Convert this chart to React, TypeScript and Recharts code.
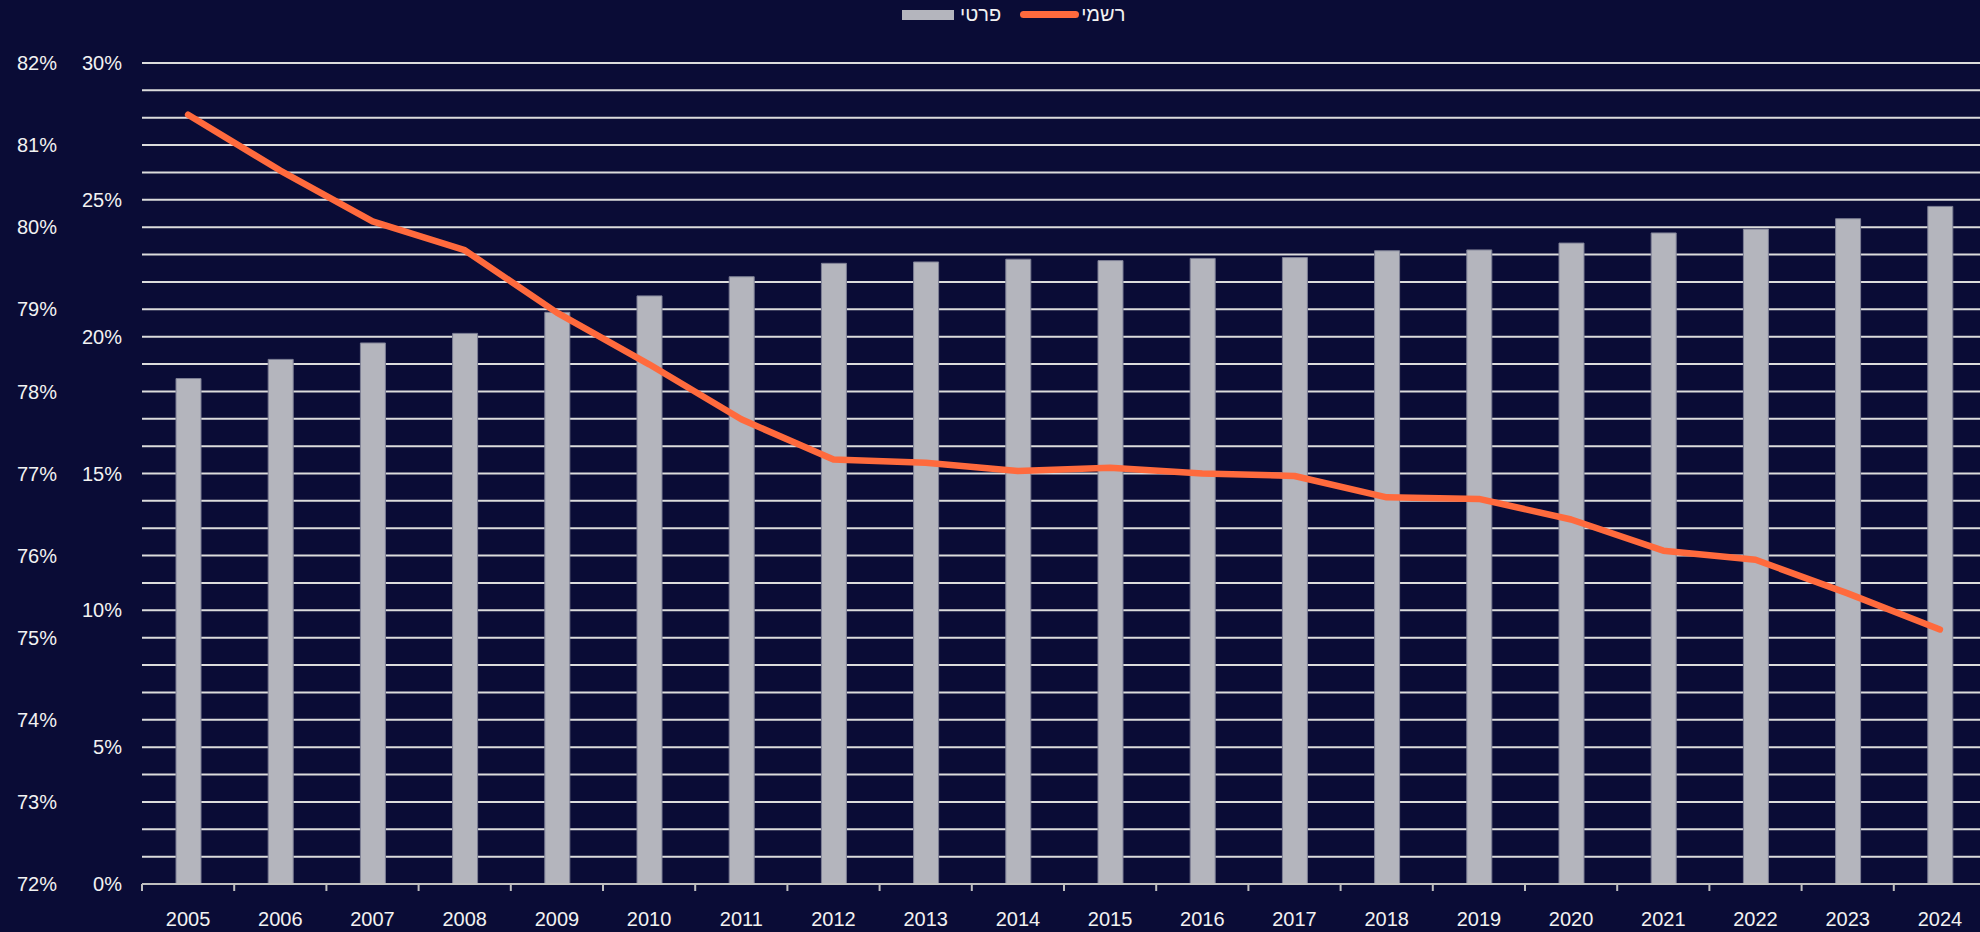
import { ComposedChart, Bar, Line, XAxis, YAxis, CartesianGrid } from 'recharts'

const years = ['2005', '2006', '2007', '2008', '2009', '2010', '2011', '2012', '2013', '2014', '2015', '2016', '2017', '2018', '2019', '2020', '2021', '2022', '2023', '2024']
// פרטי – bars, scale 0–30%
const privateShare = [18.47, 19.17, 19.77, 20.12, 20.89, 21.49, 22.19, 22.68, 22.73, 22.83, 22.78, 22.86, 22.89, 23.14, 23.17, 23.42, 23.79, 23.93, 24.31, 24.76]
// רשמי – line, scale 72–82%
const officialShare = [81.37, 80.69, 80.07, 79.72, 78.96, 78.33, 77.66, 77.17, 77.13, 77.03, 77.07, 77.0, 76.97, 76.71, 76.69, 76.44, 76.06, 75.95, 75.54, 75.1]

const officialTicks = [72, 73, 74, 75, 76, 77, 78, 79, 80, 81, 82]
// every value gets a gridline, only multiples of 5 get a label
const privateTicks = [0, 1, 2, 3, 4, 5, 6, 7, 8, 9, 10, 11, 12, 13, 14, 15, 16, 17, 18, 19, 20, 21, 22, 23, 24, 25, 26, 27, 28, 29, 30]

const privateName = 'פרטי'
const officialName = 'רשמי'

const data = years.map((year, i) => ({ year, private: privateShare[i], official: officialShare[i] }))

const BG = '#0a0c36'
const TEXT = '#f2f2f2'
const BAR = '#b4b5bd'
const LINE = '#ff6a3d'
const FONT = '"Liberation Sans", Arial, sans-serif'
const X_LABEL_GAP = 28

// axis ids: 'a' sits next to the plot, 'b' further out
const PRIVATE_AXIS = 'a'
const OFFICIAL_AXIS = 'b'

function YearTick({ x, y, payload }: any) {
  const half = payload?.offset ?? 46
  const axisY = y - X_LABEL_GAP
  return (
    <g>
      <line x1={x - half} x2={x - half} y1={axisY} y2={axisY + 7} stroke="#bfbfbf" strokeWidth={2} />
      <text x={x} y={y} dy="0.71em" textAnchor="middle" fill={TEXT} fontSize={20} fontFamily={FONT}>
        {payload.value}
      </text>
    </g>
  )
}

export default function App() {
  return (
    <div style={{ position: 'relative', width: 1980, height: 932, background: BG, overflow: 'hidden', fontFamily: FONT }}>
      <style>{'body{margin:0;overflow:hidden}'}</style>

      {/* legend */}
      <div style={{ position: 'absolute', top: 0, left: 902, height: 29, display: 'flex', alignItems: 'center', direction: 'ltr', color: TEXT, fontSize: 20, zIndex: 2 }}>
        <span style={{ width: 52, height: 10, background: BAR, marginRight: 6 }} />
        <span>{privateName}</span>
        <span style={{ width: 59, height: 7, borderRadius: 4, background: LINE, marginLeft: 19, marginRight: 2 }} />
        <span>{officialName}</span>
      </div>

      <ComposedChart width={1986} height={932} data={data} margin={{ top: 63, right: 0, bottom: 0, left: 0 }}>
        <CartesianGrid yAxisId={PRIVATE_AXIS} vertical={false} stroke="#dcdcdc" strokeWidth={2} />
        <XAxis
          dataKey="year"
          interval={0}
          height={48}
          tickLine={false}
          tickSize={0}
          tickMargin={X_LABEL_GAP}
          axisLine={{ stroke: '#bfbfbf', strokeWidth: 2 }}
          tick={<YearTick />}
        />
        <YAxis
          yAxisId={PRIVATE_AXIS}
          domain={[0, 30]}
          ticks={privateTicks}
          interval={0}
          width={70}
          axisLine={false}
          tickLine={false}
          tickSize={0}
          tickMargin={20}
          tickFormatter={(v) => (v % 5 === 0 ? `${v}%` : '')}
          tick={{ fill: TEXT, fontSize: 20, fontFamily: FONT }}
        />
        <YAxis
          yAxisId={OFFICIAL_AXIS}
          domain={[72, 82]}
          ticks={officialTicks}
          interval={0}
          width={72}
          axisLine={false}
          tickLine={false}
          tickSize={0}
          tickMargin={15}
          tickFormatter={(v) => `${v}%`}
          tick={{ fill: TEXT, fontSize: 20, fontFamily: FONT }}
        />
        <Bar yAxisId={PRIVATE_AXIS} dataKey="private" name={privateName} fill={BAR} stroke="#7d7f94" strokeWidth={1} barSize={25} isAnimationActive={false} />
        <Line
          yAxisId={OFFICIAL_AXIS}
          dataKey="official"
          name={officialName}
          type="linear"
          stroke={LINE}
          strokeWidth={6.5}
          strokeLinecap="round"
          strokeLinejoin="round"
          dot={false}
          activeDot={false}
          isAnimationActive={false}
        />
      </ComposedChart>
    </div>
  )
}
